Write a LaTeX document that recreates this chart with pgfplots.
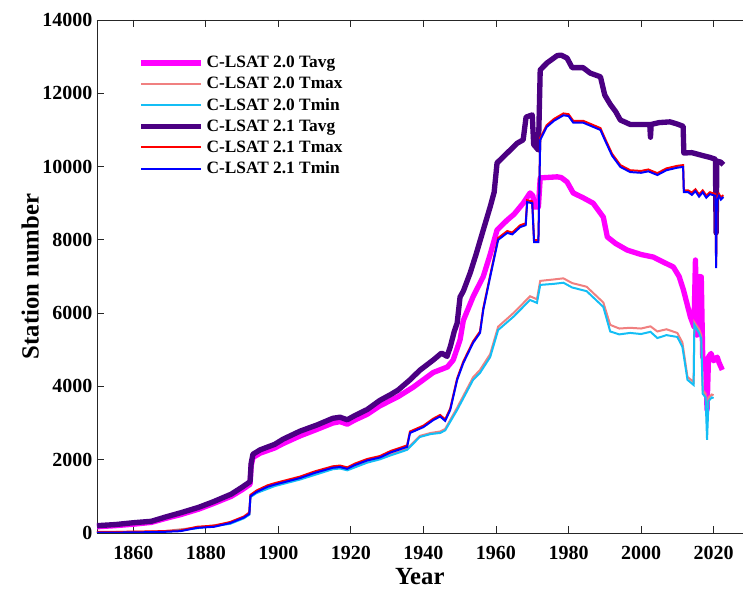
\documentclass[border=0pt]{standalone}
\usepackage{fontspec}
\setmainfont{Liberation Serif}
\usepackage{pgfplots}
\pgfplotsset{compat=1.18}

\definecolor{cmag}{RGB}{255,0,255}
\definecolor{csalmon}{RGB}{240,128,128}
\definecolor{ccyan}{RGB}{20,190,245}
\definecolor{cpurple}{RGB}{75,0,130}
\definecolor{cred}{RGB}{255,0,0}
\definecolor{cblue}{RGB}{0,0,255}

\begin{document}
\begin{tikzpicture}
\begin{axis}[
    scale only axis,
    width=484.2pt, height=384.75pt,
    xmin=1850, xmax=2028,
    ymin=0, ymax=14000,
    xtick={1860,1880,...,2020},
    ytick={0,2000,...,14000},
    axis x line=box, axis y line*=left,
    axis line style={black!85, line width=0.6pt},
    tick style={black!85, line width=0.6pt},
    tick align=inside,
    major tick length=5pt,
    scaled y ticks=false,
    /pgf/number format/set thousands separator={},
    /pgf/number format/assume math mode=true,
    tick label style={font=\bfseries\fontsize{15}{17}\selectfont},
    xticklabel style={anchor=center, yshift=-15pt},
    xlabel={Year}, ylabel={Station number},
    label style={font=\bfseries\fontsize{18.5}{20}\selectfont, inner sep=0pt},
    xlabel style={at={(axis description cs:0.5,0)}, anchor=center, yshift=-33pt},
    ylabel style={at={(axis description cs:-0.1033,0.5)}, anchor=center},
    legend cell align=left,
    legend style={draw=none, fill=none, at={(axis description cs:0,1)},
        anchor=north west, xshift=31pt, yshift=-25pt,
        font=\bfseries\fontsize{13}{15.75}\selectfont, inner sep=0pt, row sep=1.6pt},
    legend image code/.code={\draw[#1] (0pt,0pt) -- (45pt,0pt);},
]
\coordinate (o) at (rel axis cs:0,0);

% C-LSAT 2.0 Tavg
\addplot[cmag, line width=4pt, line join=round] coordinates {
(1850,170) (1855,200) (1860,240) (1865,290) (1869,400) (1873,500) (1878,650)
(1882,800) (1887,1000) (1890,1180) (1892.2,1330) (1892.5,1830) (1893,2060)
(1895,2180) (1899,2320) (1901.3,2440) (1906,2650) (1910.7,2830) (1915,3000)
(1917,3040) (1919,2970) (1921,3080) (1924.5,3240) (1928,3470) (1933,3720)
(1937.2,3980) (1942.7,4380) (1946.6,4530) (1948.2,4720) (1950.1,5270)
(1951,5800) (1953.7,6450) (1956.5,7000) (1958.4,7600) (1960.3,8270)
(1963.1,8540) (1965,8700) (1967.5,9000) (1969.4,9280) (1970.2,9200)
(1970.5,8900) (1971.7,8900) (1972.2,9690) (1976.9,9720) (1978,9700)
(1979.6,9580) (1981.3,9280) (1984,9150) (1986.8,9000) (1989.6,8620)
(1990.7,8080) (1993,7900) (1996.2,7720) (2000,7600) (2003.4,7530)
(2006,7400) (2008.9,7260) (2010.5,7000) (2011.7,6630) (2013.6,5900)
(2014.6,5630) (2015,7450) (2015.4,5400) (2016,7000) (2016.6,6990)
(2017,4800) (2017.8,4700) (2018.2,3360) (2018.6,4800) (2019.3,4900)
(2020,4700) (2021,4800) (2021.5,4650) (2022.4,4450)
};
\addlegendentry{C-LSAT 2.0 Tavg}

% C-LSAT 2.0 Tmax
\addplot[csalmon, line width=1.5pt] coordinates {
(1850,20) (1868,45) (1877.6,150) (1886.7,270) (1890.5,420) (1892,520)
(1892.3,1000) (1894,1110) (1899,1300) (1906,1480) (1915,1770) (1917,1790)
(1919,1740) (1924.5,1950) (1928,2040) (1931,2150) (1935.5,2300) (1939,2650)
(1942,2730) (1944.6,2770) (1946,2840) (1949.3,3420) (1953.7,4250)
(1955.6,4450) (1958.4,4880) (1960.6,5630) (1964.8,6000) (1969.4,6460)
(1971.3,6380) (1972.2,6880) (1976,6920) (1978.6,6950) (1981,6820)
(1985,6720) (1989.6,6290) (1991.5,5680) (1994,5580) (1997,5600)
(2000,5580) (2002.6,5640) (2004.5,5500) (2007,5560) (2010,5460)
(2011.4,5200) (2012.8,4260) (2014.5,4120) (2014.7,5750) (2016,5560)
(2016.6,5400) (2017,3900) (2017.8,3800) (2018.2,3000) (2018.6,3700)
(2019.5,3780) (2020,3760)
};
\addlegendentry{C-LSAT 2.0 Tmax}

% C-LSAT 2.0 Tmin
\addplot[ccyan, line width=1.5pt] coordinates {
(1850,0) (1868,25) (1877.6,130) (1886.7,250) (1890.5,400) (1892,500)
(1892.3,980) (1894,1090) (1899,1280) (1906,1460) (1915,1740) (1917,1760)
(1919,1710) (1924.5,1920) (1928,2010) (1931,2120) (1935.5,2270) (1939,2620)
(1942,2700) (1944.6,2730) (1946,2800) (1949.3,3360) (1953.7,4180)
(1955.6,4370) (1958.4,4800) (1960.6,5540) (1964.8,5900) (1969.4,6360)
(1971.3,6280) (1972.2,6770) (1976,6800) (1978.6,6830) (1981,6700)
(1985,6600) (1989.6,6170) (1991.5,5500) (1994,5420) (1997,5460)
(2000,5430) (2002.6,5490) (2004.5,5320) (2007,5400) (2010,5350)
(2011.4,5080) (2012.8,4180) (2014.5,4040) (2014.7,5680) (2016,5460)
(2016.6,5300) (2017,3800) (2017.8,3700) (2018.2,2540) (2018.6,3600)
(2019.5,3700) (2020,3680)
};
\addlegendentry{C-LSAT 2.0 Tmin}

% C-LSAT 2.1 Tavg
\addplot[cpurple, line width=4pt, line join=round] coordinates {
(1850,200) (1855,230) (1860,280) (1865,320) (1869,440) (1873,550) (1878,700)
(1882,850) (1887,1060) (1890,1250) (1892.2,1400) (1892.5,1900) (1893,2150)
(1895,2270) (1899,2420) (1901.3,2560) (1906,2780) (1910.7,2950) (1915,3130)
(1917,3160) (1919,3090) (1921,3200) (1924.5,3370) (1928,3620) (1931,3780)
(1933,3900) (1936.3,4180) (1939,4440) (1942.7,4720) (1945,4910)
(1946.5,4820) (1947.4,5080) (1948.5,5500) (1949.3,5730) (1950.1,6440)
(1951,6600) (1952.9,7100) (1954.5,7600) (1956.5,8270) (1958.4,8900)
(1959.5,9300) (1960.3,10100) (1963.1,10370) (1965.9,10640) (1967.5,10730)
(1968.3,11350) (1970,11410) (1970.4,10600) (1971.7,10450) (1972.2,12640)
(1974.1,12830) (1976.9,13030) (1978,13040) (1979.6,12960) (1981,12700)
(1984,12700) (1986,12550) (1988.8,12450) (1990,11950) (1991.5,11700)
(1993,11500) (1994.3,11270) (1997,11150) (2000,11150) (2002.4,11150)
(2002.6,10800) (2002.8,11150) (2005,11200) (2008,11220) (2010,11160)
(2011.6,11100) (2011.8,10370) (2014,10380) (2017,10300) (2019,10250)
(2020.5,10200) (2020.7,8190) (2020.9,10150) (2022,10120) (2022.7,10050)
};
\addlegendentry{C-LSAT 2.1 Tavg}

% C-LSAT 2.1 Tmax
\addplot[cred, line width=1.5pt] coordinates {
(1850,30) (1860,35) (1868,50) (1873,70) (1877.6,170) (1882.3,200)
(1886.7,300) (1890.5,450) (1892,560) (1892.3,1040) (1894,1160) (1897,1300)
(1899,1360) (1906,1540) (1910,1680) (1915,1820) (1917,1840) (1919,1790)
(1921,1890) (1924.5,2020) (1928,2100) (1931,2240) (1935.5,2390)
(1936.3,2770) (1940,2930) (1942.7,3120) (1944.6,3220) (1946,3100)
(1947.4,3400) (1949.3,4220) (1951,4680) (1953.7,5230) (1955.6,5500)
(1956.5,6130) (1958.4,7030) (1960.6,8050) (1963.1,8240) (1964.5,8200)
(1966.7,8400) (1968.2,8450) (1968.6,9080) (1970,9050) (1970.5,7990)
(1971.7,7990) (1972.2,10780) (1974,11130) (1976,11300) (1978.6,11450)
(1980,11430) (1981.3,11250) (1984,11250) (1988.8,11050) (1990,10780)
(1992,10350) (1994.3,10040) (1997,9900) (2000,9880) (2002,9920)
(2004.5,9820) (2007,9950) (2010,10020) (2011.6,10040) (2011.8,9350)
(2013,9350) (2014,9290) (2015,9380) (2016,9240) (2017,9350) (2018,9210)
(2019,9300) (2020.5,9250) (2020.7,7300) (2020.9,9110) (2021.5,9250)
(2022,9160) (2022.7,9220)
};
\addlegendentry{C-LSAT 2.1 Tmax}

% C-LSAT 2.1 Tmin
\addplot[cblue, line width=1.5pt] coordinates {
(1850,10) (1860,15) (1868,30) (1873,50) (1877.6,140) (1882.3,170)
(1886.7,270) (1890.5,420) (1892,520) (1892.3,1000) (1894,1120) (1897,1260)
(1899,1320) (1906,1500) (1910,1640) (1915,1780) (1917,1800) (1919,1750)
(1921,1850) (1924.5,1980) (1928,2060) (1931,2200) (1935.5,2350)
(1936.3,2730) (1940,2890) (1942.7,3080) (1944.6,3180) (1946,3060)
(1947.4,3360) (1949.3,4180) (1951,4640) (1953.7,5190) (1955.6,5460)
(1956.5,6090) (1958.4,6990) (1960.6,8000) (1963.1,8190) (1964.5,8150)
(1966.7,8350) (1968.2,8400) (1968.6,9030) (1970,9000) (1970.5,7940)
(1971.7,7940) (1972.2,10730) (1974,11080) (1976,11250) (1978.6,11400)
(1980,11380) (1981.3,11200) (1984,11200) (1988.8,11000) (1990,10730)
(1992,10300) (1994.3,9990) (1997,9850) (2000,9830) (2002,9870)
(2004.5,9770) (2007,9900) (2010,9970) (2011.6,9990) (2011.8,9300)
(2013,9300) (2014,9230) (2015,9330) (2016,9180) (2017,9300) (2018,9150)
(2019,9250) (2020.5,9200) (2020.7,7230) (2020.9,9050) (2021.5,9200)
(2022,9100) (2022.7,9170)
};
\addlegendentry{C-LSAT 2.1 Tmin}

\end{axis}
\pgfresetboundingbox
\path (o) ++(-72.75pt,-42pt) rectangle ++(557.25pt,441.75pt);
\end{tikzpicture}
\end{document}
